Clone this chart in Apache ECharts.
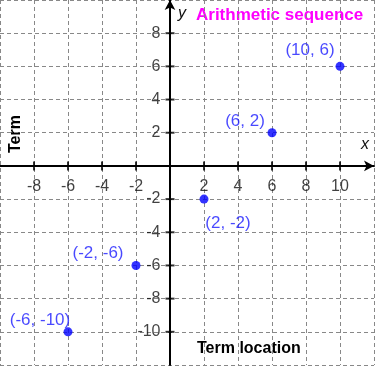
<!DOCTYPE html>
<html>
<head>
<meta charset="utf-8">
<script src="https://cdn.jsdelivr.net/npm/echarts@6/dist/echarts.min.js"></script>
<style>html,body{margin:0;padding:0;background:#fff;}#c{width:375px;height:367px;}</style>
</head>
<body>
<div id="c"></div>
<script>
const xValues = [-6, -2, 2, 6, 10];
const yValues = [-10, -6, -2, 2, 6];
const pointLabels = ['(-6, -10)', '(-2, -6)', '(2, -2)', '(6, 2)', '(10, 6)'];
const xTickLabels = [-8, -6, -4, -2, 2, 4, 6, 8, 10];
const yTickLabels = [-10, -8, -6, -4, -2, 2, 4, 6, 8];
const titleText = 'Arithmetic sequence';
const xAxisTitle = 'Term location';
const yAxisTitle = 'Term';

const FONT = 'Liberation Sans';
const offsets = [[-28, -12], [-38, -12], [24, 24], [-27, -11], [-30, -16]];

const chart = echarts.init(document.getElementById('c'));
const ticksX = xTickLabels.map(v => [v, 0]);
const ticksY = yTickLabels.map(v => [0, v]);

const splitStyle = { show: true, lineStyle: { color: '#888', type: [4, 3], width: 1 } };
const lineStyle = { onZero: true, lineStyle: { color: '#000', width: 2 }, symbol: ['none', 'arrow'], symbolSize: [8, 10] };

chart.setOption({
  animation: false,
  backgroundColor: '#fff',
  grid: { left: 0, right: 1, top: 0, bottom: 2, containLabel: false, outerBoundsMode: 'none' },
  xAxis: {
    type: 'value', min: -10, max: 12, interval: 2,
    axisLine: lineStyle, axisTick: { show: false }, axisLabel: { show: false },
    splitLine: splitStyle
  },
  yAxis: {
    type: 'value', min: -12, max: 10, interval: 2,
    axisLine: lineStyle, axisTick: { show: false }, axisLabel: { show: false },
    splitLine: splitStyle
  },
  graphic: [
    { type: 'text', left: 196, top: 7, style: { text: titleText, fill: '#ff00ff', font: 'bold 17px ' + FONT } },
    { type: 'text', left: 178, top: 6, style: { text: 'y', fill: '#111', font: 'italic 16px ' + FONT } },
    { type: 'text', left: 361, top: 137, style: { text: 'x', fill: '#111', font: 'italic 16px ' + FONT } },
    { type: 'text', left: 197, top: 341, style: { text: xAxisTitle, fill: '#000', font: 'bold 16px ' + FONT } },
    { type: 'text', x: 16, y: 134, rotation: Math.PI / 2, style: { text: yAxisTitle, fill: '#000', font: 'bold 16px ' + FONT, align: 'center', verticalAlign: 'middle' } }
  ],
  series: [
    {
      type: 'scatter', symbol: 'rect', symbolSize: [2, 9], silent: true,
      itemStyle: { color: '#000' }, data: ticksX, z: 3,
      label: { show: true, position: 'inside', offset: [0, 21], formatter: p => String(p.value[0]),
        fontSize: 16, fontFamily: FONT, color: '#111' }
    },
    {
      type: 'scatter', symbol: 'rect', symbolSize: [9, 2], silent: true,
      itemStyle: { color: '#000' }, data: ticksY, z: 3,
      label: { show: true, position: 'left', distance: 5, formatter: p => String(p.value[1]),
        fontSize: 16, fontFamily: FONT, color: '#111' }
    },
    {
      type: 'scatter', symbol: 'circle', symbolSize: 9, z: 5,
      itemStyle: { color: '#0000ff' },
      data: xValues.map((x, i) => ({
        value: [x, yValues[i]],
        label: { show: true, formatter: pointLabels[i], position: 'inside', offset: offsets[i] }
      })),
      label: { color: '#1a1aff', fontSize: 17, fontFamily: FONT }
    }
  ]
});
</script>
</body>
</html>
